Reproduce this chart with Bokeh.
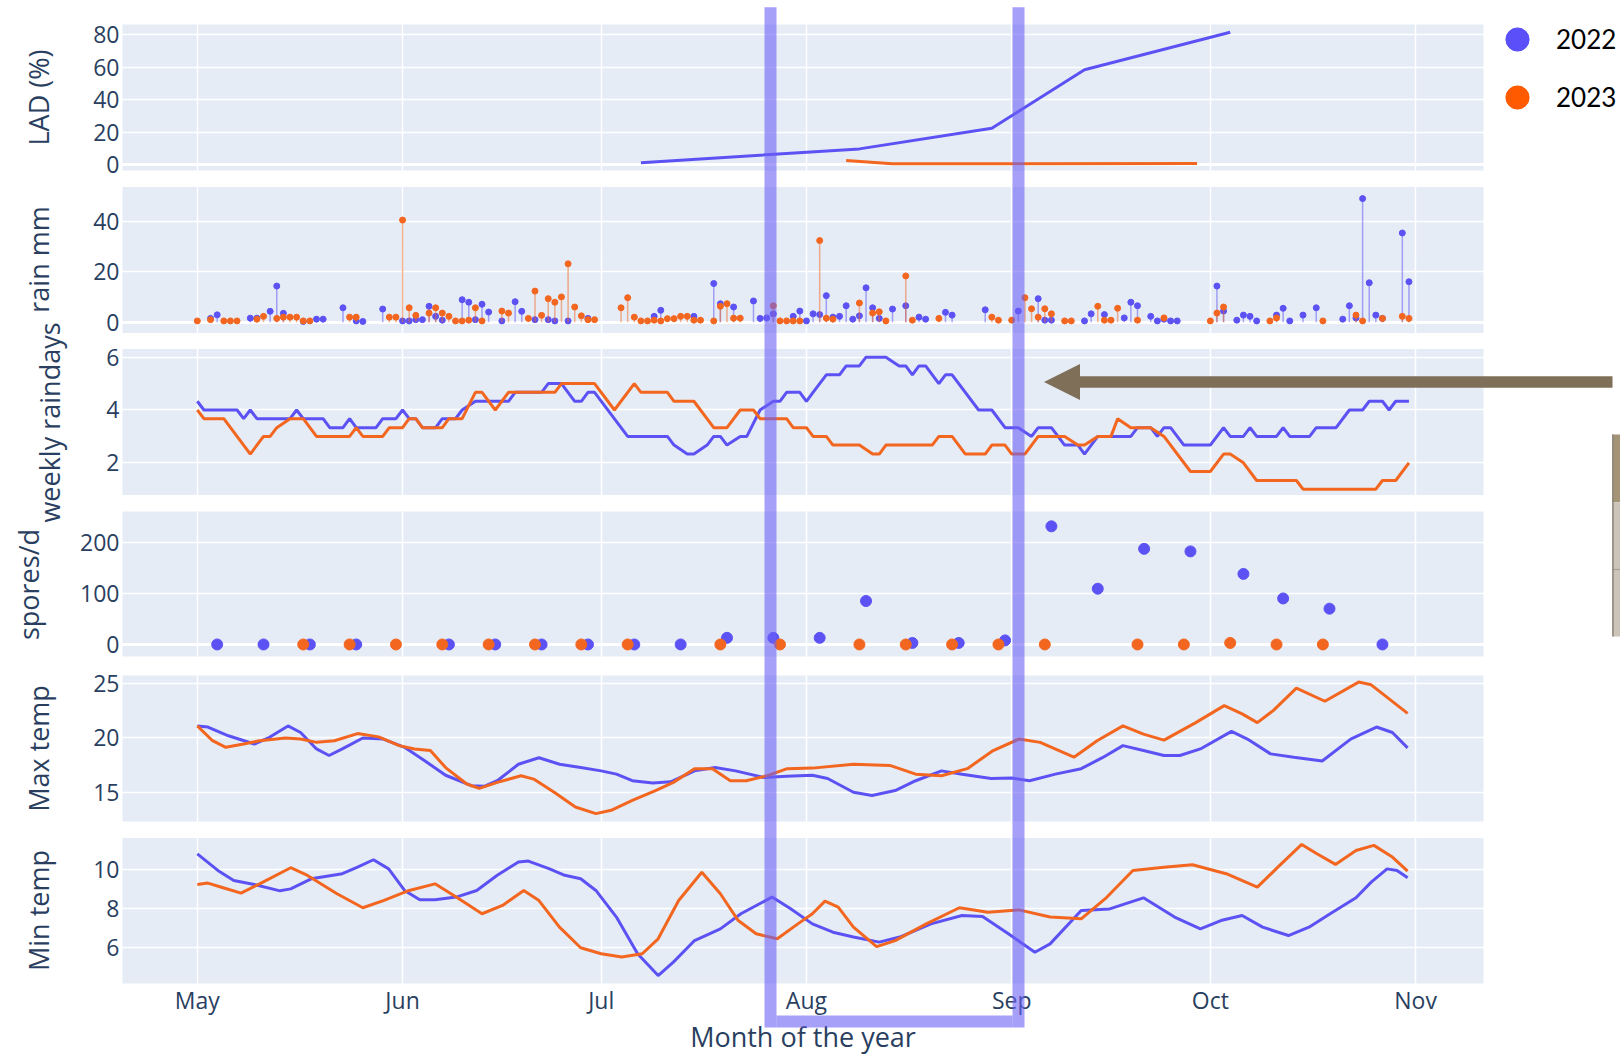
from math import pi
from bokeh.plotting import figure
from bokeh.models import (Range1d, FixedTicker, Legend, LegendItem, Label,
                          BoxAnnotation, PolyAnnotation, Grid)
from bokeh.embed import file_html
from bokeh.resources import INLINE

# ------------------------------------------------------------------ data
MAY1 = 121  # day-of-year of 1 May; all *_day lists are days after 1 May

month_ticks = [121, 152, 182, 213, 244, 274, 305]
month_labels = ["May", "Jun", "Jul", "Aug", "Sep", "Oct", "Nov"]

lad_ticks = [0, 20, 40, 60, 80]
rain_ticks = [0, 20, 40]
rdays_ticks = [2, 4, 6]
spores_ticks = [0, 100, 200]
tmax_ticks = [15, 20, 25]
tmin_ticks = [6, 8, 10]

years = ["2022", "2023"]

lad_2022_day = [67, 100, 120, 134, 156]
lad_2022_val = [1.2, 9.8, 22.5, 58.5, 81.6]
lad_2023_day = [98, 105, 151]
lad_2023_val = [2.7, 0.6, 0.8]

rain_2022_day = [2, 3, 8, 9, 11, 12, 13, 16, 18, 19, 22, 24, 25, 28, 31, 32, 33, 34, 35, 36,
                 37, 40, 41, 42, 43, 44, 46, 48, 49, 51, 53, 54, 56, 59, 69, 70, 75, 78, 79, 81,
                 84, 85, 86, 87, 90, 91, 92, 93, 94, 95, 96, 97, 98, 99, 100, 101, 102, 103, 105, 107,
                 109, 110, 113, 114, 119, 124, 127, 128, 129, 134, 135, 137, 140, 141, 142, 144, 145, 146, 147, 148,
                 154, 155, 157, 158, 159, 160, 163, 164, 165, 167, 169, 173, 174, 175, 176, 177, 178, 179, 182, 183]
rain_2022_mm = [1.5, 2.9, 1.6, 1.6, 4.3, 14.3, 3.5, 0.3, 1.2, 1.2, 5.7, 0.5, 0.3, 5.2, 0.5, 0.5, 1.0, 1.0, 6.3, 2.3,
                0.8, 8.9, 7.9, 1.0, 7.1, 4.0, 0.5, 8.1, 4.3, 1.0, 1.0, 0.5, 0.5, 1.5, 2.3, 4.7, 2.3, 15.3, 7.3, 6.0,
                8.4, 1.5, 1.7, 3.3, 2.3, 4.4, 0.5, 3.3, 3.0, 10.5, 2.0, 2.3, 6.5, 1.2, 2.5, 13.6, 5.7, 1.5, 5.2, 6.5,
                2.0, 1.2, 3.9, 2.8, 4.9, 4.4, 9.3, 0.8, 0.8, 0.5, 3.3, 3.0, 1.7, 7.9, 6.5, 2.3, 0.5, 1.2, 0.5, 0.5,
                14.3, 4.4, 0.8, 2.8, 2.3, 0.5, 2.8, 5.5, 0.5, 2.8, 5.7, 1.2, 6.5, 1.7, 48.9, 15.6, 2.8, 1.5, 35.3, 16.0]
rain_2023_day = [0, 2, 4, 5, 6, 9, 10, 12, 13, 14, 15, 16, 17, 23, 24, 29, 30, 31, 32, 33,
                 35, 36, 37, 38, 39, 40, 41, 42, 43, 46, 47, 50, 51, 52, 53, 54, 55, 56, 57, 58,
                 59, 60, 64, 65, 66, 67, 68, 69, 70, 71, 72, 73, 74, 75, 76, 78, 79, 80, 81, 82,
                 87, 88, 89, 90, 91, 94, 95, 96, 100, 102, 103, 104, 107, 108, 112, 120, 121, 123, 125, 126,
                 127, 128, 129, 131, 132, 136, 137, 138, 139, 142, 146, 153, 154, 155, 162, 163, 170, 175, 176, 179,
                 182, 183]
rain_2023_mm = [0.5, 1.0, 0.5, 0.5, 0.5, 1.2, 2.3, 1.5, 2.0, 2.0, 2.0, 0.5, 0.5, 2.0, 2.0, 2.0, 2.0, 40.4, 5.7, 2.7,
                3.6, 5.7, 3.6, 2.3, 0.5, 0.5, 0.8, 5.7, 0.5, 4.4, 3.6, 1.5, 12.3, 2.7, 9.3, 7.9, 10.0, 23.1, 6.0, 2.5,
                1.0, 1.0, 5.7, 9.7, 2.0, 0.5, 0.5, 0.8, 0.5, 1.4, 1.4, 2.3, 2.3, 0.8, 0.8, 0.5, 6.3, 7.3, 1.6, 1.6,
                6.5, 0.5, 0.5, 0.5, 0.5, 32.3, 1.6, 1.2, 7.6, 3.6, 4.1, 0.5, 18.3, 0.8, 1.5, 2.0, 0.8, 0.8, 9.7, 5.3,
                2.0, 5.3, 3.3, 0.5, 0.5, 6.3, 0.8, 0.8, 5.5, 0.8, 1.7, 0.5, 3.6, 6.0, 0.5, 1.7, 0.5, 2.8, 0.5, 1.5,
                2.3, 1.5]

rdays_2022_day = [0, 1, 6, 7, 8, 9, 14, 15, 16, 19, 20, 22, 23, 24, 27, 28, 30, 31, 32, 33,
                  34, 36, 37, 39, 40, 42, 47, 48, 52, 53, 55, 57, 58, 59, 60, 65, 71, 72, 74, 75,
                  77, 78, 79, 80, 82, 83, 85, 87, 88, 89, 91, 92, 93, 95, 97, 98, 100, 101, 104, 106,
                  107, 108, 109, 110, 112, 113, 114, 118, 120, 122, 124, 126, 127, 129, 131, 133, 134, 136, 141, 142,
                  144, 145, 146, 147, 149, 153, 155, 156, 158, 159, 160, 163, 164, 165, 168, 169, 172, 174, 176, 177,
                  179, 180, 181, 183]
rdays_2022_val = [4.33, 4.0, 4.0, 3.67, 4.0, 3.67, 3.67, 4.0, 3.67, 3.67, 3.33, 3.33, 3.67, 3.33, 3.33, 3.67, 3.67, 4.0, 3.67, 3.67,
                  3.33, 3.33, 3.67, 3.67, 4.0, 4.33, 4.33, 4.67, 4.67, 5.0, 5.0, 4.33, 4.33, 4.67, 4.67, 3.0, 3.0, 2.67, 2.33, 2.33,
                  2.67, 3.0, 3.0, 2.67, 3.0, 3.0, 4.0, 4.33, 4.33, 4.67, 4.67, 4.33, 4.67, 5.33, 5.33, 5.67, 5.67, 6.0, 6.0, 5.67,
                  5.67, 5.33, 5.67, 5.67, 5.0, 5.33, 5.33, 4.0, 4.0, 3.33, 3.33, 3.0, 3.33, 3.33, 2.67, 2.67, 2.33, 3.0, 3.0, 3.33,
                  3.33, 3.0, 3.33, 3.33, 2.67, 2.67, 3.33, 3.0, 3.0, 3.33, 3.0, 3.0, 3.33, 3.0, 3.0, 3.33, 3.33, 4.0, 4.0, 4.33,
                  4.33, 4.0, 4.33, 4.33]
rdays_2023_day = [0, 1, 4, 8, 10, 11, 12, 14, 16, 18, 23, 24, 25, 28, 29, 31, 32, 33, 34, 37,
                  38, 40, 42, 43, 45, 47, 54, 55, 60, 63, 66, 67, 71, 72, 75, 78, 80, 82, 84, 85,
                  89, 90, 92, 93, 95, 96, 100, 102, 103, 104, 111, 112, 114, 116, 119, 120, 122, 123, 125, 127,
                  131, 133, 134, 136, 138, 139, 141, 144, 146, 150, 153, 155, 156, 158, 160, 166, 167, 178, 179, 181,
                  183]
rdays_2023_val = [4.0, 3.67, 3.67, 2.33, 3.0, 3.0, 3.33, 3.67, 3.67, 3.0, 3.0, 3.33, 3.0, 3.0, 3.33, 3.33, 3.67, 3.67, 3.33, 3.33,
                  3.67, 3.67, 4.67, 4.67, 4.0, 4.67, 4.67, 5.0, 5.0, 4.0, 5.0, 4.67, 4.67, 4.33, 4.33, 3.33, 3.33, 4.0, 4.0, 3.67,
                  3.67, 3.33, 3.33, 3.0, 3.0, 2.67, 2.67, 2.33, 2.33, 2.67, 2.67, 3.0, 3.0, 2.33, 2.33, 2.67, 2.67, 2.33, 2.33, 3.0,
                  3.0, 2.67, 2.67, 3.0, 3.0, 3.67, 3.33, 3.33, 3.0, 1.67, 1.67, 2.33, 2.33, 2.0, 1.33, 1.33, 1.0, 1.0, 1.33, 1.33,
                  2.0]

spores_2022_day = [3, 10, 17, 24, 38, 45, 52, 59, 66, 73, 80, 87, 94, 101, 108, 115, 122, 129, 136, 143,
                   150, 158, 164, 171, 179]
spores_2022_val = [0, 0, 0, 0, 0, 0, 0, 0, 0, 0, 13, 13, 13, 85, 3, 3, 8, 231, 109, 187,
                   182, 138, 90, 70, 0]
spores_2023_day = [16, 23, 30, 37, 44, 51, 58, 65, 79, 88, 100, 107, 114, 121, 128, 142, 149, 156, 163, 170]
spores_2023_val = [0, 0, 0, 0, 0, 0, 0, 0, 0, 0, 0, 0, 0, 0, 0, 0, 0, 3, 0, 0]

tmax_2022_day = [0, 1.6, 4.7, 8.6, 10.9, 13.7, 15.6, 18, 19.9, 21.9, 25, 28.1, 31.3, 34.4, 37.5, 41.4, 43.4, 45.3, 48.5, 51.6,
                 54.7, 57.9, 61, 63.3, 65.7, 68.8, 71.5, 75.1, 78.2, 81.3, 85.6, 89, 92.9, 95.2, 99.1, 101.9, 105.4, 108.5, 112.4, 115.5,
                 119.9, 123, 125.7, 129.6, 133.5, 136.7, 139.8, 142.9, 146, 148.4, 151.5, 156.2, 158.6, 162.1, 165.6, 169.9, 174.2, 178.1, 180.5, 182.8]
tmax_2022_val = [21.1, 21.0, 20.2, 19.45, 20.06, 21.1, 20.5, 19.0, 18.4, 19.0, 20.0, 19.9, 19.15, 17.9, 16.6, 15.65, 15.6, 16.1, 17.6, 18.2,
                 17.6, 17.3, 17.0, 16.7, 16.1, 15.9, 16.0, 17.0, 17.3, 17.0, 16.4, 16.5, 16.6, 16.3, 15.05, 14.75, 15.2, 16.1, 17.0, 16.7,
                 16.3, 16.35, 16.1, 16.7, 17.2, 18.2, 19.3, 18.85, 18.4, 18.4, 19.0, 20.6, 19.9, 18.55, 18.25, 17.9, 19.9, 21.0, 20.5, 19.1]
tmax_2023_day = [0, 2.3, 4.3, 7, 9.4, 13.3, 15.6, 18, 20.7, 24.2, 27.4, 30.5, 32.8, 35.2, 37.5, 40.7, 42.6, 45.3, 48.9, 50.8,
                 53.9, 57.1, 60.2, 62.5, 65.7, 69.2, 71.9, 75.1, 77.8, 80.5, 82.9, 86, 89.1, 92.9, 99.1, 104.6, 108.5, 112.4, 116.3, 120.2,
                 124.1, 127.3, 132.4, 135.9, 139.8, 142.9, 146, 150.8, 155.1, 157.8, 160.1, 162.5, 166, 170.3, 175.4, 177.3, 182.8]
tmax_2023_val = [21.1, 19.75, 19.15, 19.45, 19.75, 20.0, 19.9, 19.6, 19.75, 20.4, 20.1, 19.3, 19.0, 18.85, 17.3, 15.8, 15.4, 15.95, 16.55, 16.25,
                 15.05, 13.7, 13.1, 13.4, 14.3, 15.2, 15.95, 17.2, 17.2, 16.1, 16.1, 16.55, 17.2, 17.25, 17.6, 17.5, 16.7, 16.55, 17.2, 18.85,
                 19.9, 19.6, 18.25, 19.75, 21.1, 20.35, 19.8, 21.4, 22.95, 22.2, 21.4, 22.5, 24.55, 23.35, 25.1, 24.85, 22.25]

tmin_2022_day = [0, 3.1, 5.5, 8.6, 12.5, 14.1, 17.2, 21.9, 24.2, 26.6, 28.9, 31.3, 33.6, 35.9, 39.1, 42.2, 45.3, 48.5, 50, 53.2,
                 55.5, 57.9, 60.2, 63.3, 66.5, 69.6, 71.9, 75.1, 79, 82.1, 86.8, 89.5, 92.9, 96, 99.1, 103, 106.1, 110.8, 115.5, 118.6,
                 122.5, 126.5, 128.8, 133.5, 137.8, 142.9, 147.6, 151.5, 154.6, 157.8, 160.9, 164.8, 167.9, 171.1, 175, 177.3, 179.7, 181.2, 182.8]
tmin_2022_val = [10.8, 9.95, 9.43, 9.23, 8.9, 9.0, 9.52, 9.78, 10.12, 10.5, 10.03, 8.92, 8.44, 8.44, 8.58, 8.92, 9.7, 10.38, 10.43, 10.03,
                 9.7, 9.52, 8.92, 7.55, 5.66, 4.54, 5.23, 6.34, 6.94, 7.72, 8.58, 8.0, 7.2, 6.77, 6.52, 6.26, 6.52, 7.2, 7.63, 7.58,
                 6.69, 5.74, 6.17, 7.89, 7.97, 8.54, 7.55, 6.94, 7.37, 7.63, 7.03, 6.6, 7.03, 7.72, 8.54, 9.35, 10.03, 9.95, 9.57]
tmin_2023_day = [0, 1.6, 3.9, 6.6, 9.4, 14.1, 16.4, 21.1, 25, 28.1, 32, 35.9, 39.1, 43, 46.1, 49.3, 51.6, 54.7, 57.9, 61,
                 64.1, 67.2, 69.6, 72.7, 76.2, 79, 81.7, 84.4, 87.6, 90.7, 92.9, 94.8, 96.8, 99.1, 102.6, 105.4, 110.1, 115.1, 119.4, 124.1,
                 128.8, 133.5, 137.4, 141.3, 146, 150.3, 155.4, 160.1, 163.2, 166.8, 169.1, 171.9, 175, 177.7, 180.5, 182.8]
tmin_2023_val = [9.23, 9.3, 9.06, 8.78, 9.26, 10.09, 9.74, 8.75, 8.03, 8.4, 8.92, 9.26, 8.58, 7.72, 8.15, 8.92, 8.4, 7.03, 5.97, 5.66,
                 5.49, 5.66, 6.43, 8.4, 9.86, 8.75, 7.37, 6.69, 6.43, 7.2, 7.72, 8.37, 8.06, 7.03, 6.03, 6.34, 7.2, 8.03, 7.8, 7.92,
                 7.55, 7.46, 8.58, 9.95, 10.12, 10.24, 9.78, 9.09, 10.12, 11.29, 10.81, 10.26, 10.98, 11.24, 10.64, 9.91]

# ------------------------------------------------------------------ style / layout
BLUE = "#5C52F4"
ORANGE = "#F3661F"
BLUE_LEG = "#5A4FF9"
ORANGE_LEG = "#FF5A00"
TXT = "#2A3F5F"
PANEL_BG = "#E5ECF6"
BRACKET = "#6A60F5"
ARROW = "#7F6F58"
FONT = "Open Sans"

W, HT = 1620, 1056                 # canvas size; the whole canvas is the plot frame
PX_LEFT, PX_RIGHT = 122, 1483      # horizontal pixel extent of the panels
X_START, X_END = 109.7, 315.26     # day-of-year shown across the panels
# key, (y start, y end), (panel top px, panel bottom px), ticks
PANELS = [
    ("lad", (-3.5, 86.34), (24, 170), lad_ticks),
    ("rain", (-4.28, 53.5), (186.5, 332.5), rain_ticks),
    ("rdays", (0.78, 6.31), (348.5, 494.5), rdays_ticks),
    ("spores", (-23.5, 260.0), (511, 656), spores_ticks),
    ("tmax", (12.38, 25.7), (675, 821), tmax_ticks),
    ("tmin", (4.13, 11.62), (837.5, 983), tmin_ticks),
]

k = (X_END - X_START) / (PX_RIGHT - PX_LEFT)
p = figure(width=W, height=HT,
           x_range=Range1d(X_START - PX_LEFT * k, X_END + (W - PX_RIGHT) * k),
           y_range=Range1d(0, HT),
           toolbar_location=None, output_backend="svg",
           min_border_left=0, min_border_right=0, min_border_top=0, min_border_bottom=0,
           background_fill_color="white", border_fill_color="white")
p.outline_line_color = None

extra = {}
ytick_pos, ytick_lab, zero_pos = [], {}, []
for key, (s0, s1), (top_px, bot_px), tks in PANELS:
    b0, b1 = HT - bot_px, HT - top_px
    u = (s1 - s0) / (b1 - b0)
    extra[key] = Range1d(s0 - b0 * u, s1 + (HT - b1) * u)
    for t in tks:
        pos = round(b0 + (t - s0) / u, 3)
        ytick_pos.append(pos)
        ytick_lab[pos] = str(t)
    if s0 < 0 < s1:
        zero_pos.append(round(b0 + (0 - s0) / u, 3))
    p.add_layout(BoxAnnotation(left=X_START, right=X_END, bottom=b0, top=b1,
                               fill_color=PANEL_BG, fill_alpha=1.0,
                               line_color=None, level="image"))
p.extra_y_ranges = extra

# axes (drawn at the panel edges)
xa = p.xaxis[0]
xa.fixed_location = HT - PANELS[-1][2][1]
xa.ticker = FixedTicker(ticks=month_ticks)
xa.major_label_overrides = {t: l for t, l in zip(month_ticks, month_labels)}
ya = p.yaxis[0]
ya.fixed_location = X_START
ya.ticker = FixedTicker(ticks=ytick_pos)
ya.major_label_overrides = ytick_lab
for ax, so in ((xa, 0), (ya, 3)):
    ax.axis_line_color = None
    ax.major_tick_line_color = None
    ax.minor_tick_line_color = None
    ax.major_tick_out = 0
    ax.major_tick_in = 0
    ax.major_label_standoff = so
    ax.major_label_text_font = FONT
    ax.major_label_text_font_size = "23px"
    ax.major_label_text_color = TXT

# grids
p.xgrid.ticker = FixedTicker(ticks=month_ticks)
p.ygrid.ticker = FixedTicker(ticks=ytick_pos)
for g in (p.xgrid[0], p.ygrid[0]):
    g.grid_line_color = "white"
    g.grid_line_width = 1.5
p.add_layout(Grid(dimension=1, ticker=FixedTicker(ticks=zero_pos),
                  grid_line_color="white", grid_line_width=3))


def xs(days):
    return [MAY1 + d for d in days]


# LAD
p.line(xs(lad_2022_day), lad_2022_val, y_range_name="lad", line_color=BLUE, line_width=3)
p.line(xs(lad_2023_day), lad_2023_val, y_range_name="lad", line_color=ORANGE, line_width=3)

# rain stems
for days, mm, col in ((rain_2022_day, rain_2022_mm, BLUE), (rain_2023_day, rain_2023_mm, ORANGE)):
    x = xs(days)
    p.segment(x0=x, y0=[0] * len(x), x1=x, y1=mm, y_range_name="rain",
              line_color=col, line_alpha=0.5, line_width=1.5)
    p.scatter(x, mm, y_range_name="rain", size=6, fill_color=col, line_color=col)

# weekly raindays
p.line(xs(rdays_2022_day), rdays_2022_val, y_range_name="rdays", line_color=BLUE, line_width=3)
p.line(xs(rdays_2023_day), rdays_2023_val, y_range_name="rdays", line_color=ORANGE, line_width=3)

# spores
p.scatter(xs(spores_2022_day), spores_2022_val, y_range_name="spores", size=11,
          fill_color=BLUE, line_color=BLUE)
p.scatter(xs(spores_2023_day), spores_2023_val, y_range_name="spores", size=11,
          fill_color=ORANGE, line_color=ORANGE)

# temperatures
p.line(xs(tmax_2022_day), tmax_2022_val, y_range_name="tmax", line_color=BLUE, line_width=3)
p.line(xs(tmax_2023_day), tmax_2023_val, y_range_name="tmax", line_color=ORANGE, line_width=3)
p.line(xs(tmin_2022_day), tmin_2022_val, y_range_name="tmin", line_color=BLUE, line_width=3)
p.line(xs(tmin_2023_day), tmin_2023_val, y_range_name="tmin", line_color=ORANGE, line_width=3)

# legend (swatch-only renderers: a single NaN point, never drawn on the plot)
NAN = float("nan")
leg_b = p.scatter(x=[NAN], y=[NAN], size=10, fill_color=BLUE_LEG, line_color=BLUE_LEG)
leg_o = p.scatter(x=[NAN], y=[NAN], size=10, fill_color=ORANGE_LEG, line_color=ORANGE_LEG)
legend = Legend(items=[LegendItem(label=years[0], renderers=[leg_b]),
                       LegendItem(label=years[1], renderers=[leg_o])],
                location=(1488, HT - 126), glyph_width=58, glyph_height=58, spacing=-6,
                padding=0, margin=0, label_standoff=10,
                label_text_font="Lato", label_text_font_size="26px", label_text_color="black",
                border_line_color=None, background_fill_alpha=0)
p.add_layout(legend)

# axis titles (pixel positions measured from the top-left corner)
YTITLES = [("LAD (%)", 38, 97), ("rain mm", 38, 259), ("weekly raindays", 48.7, 422),
           ("spores/d", 28, 584), ("Max temp", 38, 748), ("Min temp", 38, 910)]
for txt, lx, ly in YTITLES:
    p.add_layout(Label(x=lx, y=HT - ly, x_units="screen", y_units="screen", text=txt, angle=pi / 2,
                       text_align="center", text_baseline="middle", text_font=FONT,
                       text_font_size="27px", text_color=TXT))
p.add_layout(Label(x=(PX_LEFT + PX_RIGHT) / 2, y=HT - 1036, x_units="screen", y_units="screen",
                   text="Month of the year", text_align="center", text_baseline="middle",
                   text_font=FONT, text_font_size="27px", text_color=TXT))


def screen_box(l, r, t, b, color, alpha=1.0):
    """Box given in pixels from the top-left corner."""
    p.add_layout(BoxAnnotation(left=l, right=r, top=HT - t, bottom=HT - b,
                               left_units="screen", right_units="screen",
                               top_units="screen", bottom_units="screen",
                               fill_color=color, fill_alpha=alpha, line_color=None, level="overlay"))


# overlay: bracket
screen_box(764, 776, 6.7, 1027, BRACKET, 0.6)
screen_box(1012, 1024, 6.7, 1027, BRACKET, 0.6)
screen_box(776, 1012, 1015, 1027, BRACKET, 0.6)

# overlay: arrow
screen_box(1078.7, 1612, 375.7, 387.3, ARROW)
p.add_layout(PolyAnnotation(xs=[1043.5, 1079.5, 1079.5], ys=[HT - 381.5, HT - 363.5, HT - 399.5],
                            xs_units="screen", ys_units="screen",
                            fill_color=ARROW, fill_alpha=1.0, line_color=None, level="overlay"))

# overlay: partial box at the right edge
screen_box(1611.7, 1640, 434, 501.7, "#A39478")
screen_box(1611.7, 1640, 501.7, 636, "#CCC4B8")
screen_box(1611.7, 1640, 568.4, 569.6, "#A89E90")
screen_box(1611.7, 1613.2, 434, 636, "#8E857A")

open("out.html", "w").write(file_html(p, INLINE))
